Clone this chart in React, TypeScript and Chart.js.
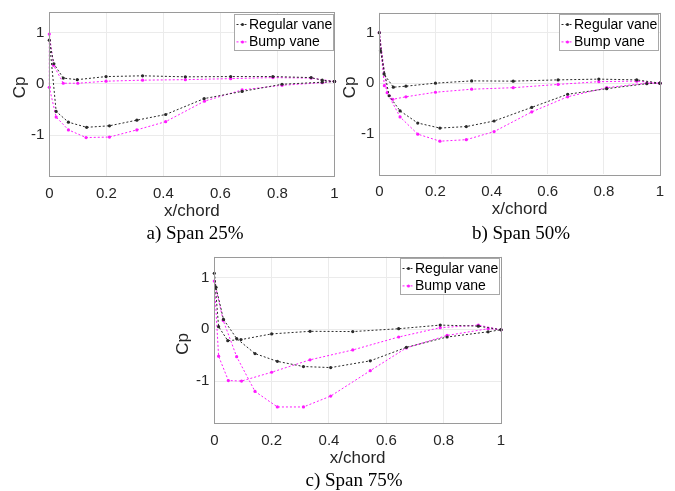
import React, { useEffect, useRef } from 'react';
import { Chart, registerables } from 'chart.js';

Chart.register(...registerables);

// ---------- data ----------
const xTicks = [0, 0.2, 0.4, 0.6, 0.8, 1];
const yTicks = [-1, 0, 1];
const yMin = -1.8;
const yMax = 1.4;
const seriesNames = ['Regular vane', 'Bump vane'];
const captions = ['a) Span 25%', 'b) Span 50%', 'c) Span 75%'];

const aRegularX = [1, 0.957, 0.918, 0.784, 0.636, 0.477, 0.327, 0.199, 0.098, 0.049, 0.016, 0, 0.024, 0.067, 0.131, 0.211, 0.307, 0.408, 0.543, 0.676, 0.816, 0.957, 1];
const aRegularY = [0.045, 0.07, 0.12, 0.14, 0.14, 0.135, 0.155, 0.14, 0.08, 0.11, 0.39, 0.85, -0.54, -0.75, -0.85, -0.82, -0.71, -0.6, -0.29, -0.15, -0.01, 0.03, 0.045];
const aBumpX = [1, 0.918, 0.784, 0.636, 0.477, 0.327, 0.199, 0.1, 0.049, 0.015, 0, 0, 0.024, 0.067, 0.129, 0.211, 0.307, 0.408, 0.544, 0.676, 0.816, 0.957, 1];
const aBumpY = [0.045, 0.11, 0.12, 0.1, 0.08, 0.07, 0.05, 0.01, 0.01, 0.36, 0.97, -0.07, -0.65, -0.9, -1.05, -1.04, -0.9, -0.74, -0.34, -0.12, -0.03, 0.02, 0.045];

const bRegularX = [1, 0.917, 0.782, 0.637, 0.477, 0.329, 0.2, 0.095, 0.05, 0.017, 0, 0.004, 0.035, 0.074, 0.137, 0.216, 0.31, 0.409, 0.543, 0.671, 0.81, 0.953, 1];
const bRegularY = [0, 0.065, 0.08, 0.065, 0.04, 0.045, 0, -0.06, -0.08, 0.18, 1.0, 0.64, -0.25, -0.55, -0.79, -0.89, -0.86, -0.75, -0.48, -0.22, -0.11, -0.01, 0];
const bBumpX = [1, 0.917, 0.782, 0.637, 0.477, 0.329, 0.2, 0.095, 0.048, 0.018, 0, 0.028, 0.074, 0.137, 0.216, 0.31, 0.409, 0.543, 0.671, 0.81, 0.953, 1];
const bBumpY = [0, 0.04, 0.03, -0.025, -0.09, -0.12, -0.18, -0.27, -0.32, -0.05, 1.0, -0.19, -0.67, -1.01, -1.15, -1.12, -0.96, -0.57, -0.27, -0.09, 0.0, 0];

const cRegularX = [1, 0.921, 0.788, 0.643, 0.483, 0.334, 0.2, 0.093, 0.047, 0.015, 0, 0.006, 0.032, 0.078, 0.142, 0.22, 0.311, 0.406, 0.544, 0.67, 0.812, 0.955, 1];
const cRegularY = [-0.01, 0.06, 0.08, 0.01, -0.045, -0.04, -0.09, -0.2, -0.22, 0.05, 1.08, 0.81, 0.19, -0.18, -0.47, -0.62, -0.72, -0.74, -0.61, -0.35, -0.15, -0.05, -0.01];
const cBumpX = [1, 0.921, 0.788, 0.643, 0.483, 0.334, 0.2, 0.095, 0.049, 0.015, 0, 0.031, 0.078, 0.142, 0.22, 0.311, 0.406, 0.544, 0.67, 0.812, 0.955, 1];
const cBumpY = [-0.01, 0.08, 0.03, -0.15, -0.4, -0.59, -0.83, -1.0, -0.99, -0.52, 0.93, 0.17, -0.53, -1.2, -1.5, -1.5, -1.29, -0.8, -0.36, -0.12, 0.01, -0.01];

// ---------- styles ----------
const SANS = "'Liberation Sans', Arial, Helvetica, sans-serif";
const SERIF = "'Liberation Serif', 'Times New Roman', serif";
const seriesColors = ['#2a2a2a', '#ff1aff'];
const TEXT = '#262626';

type PanelCfg = {
  left: number; top: number; w: number; h: number;
  padTop: number; padRight: number;
  yWidth: number; xHeight: number;
  xTitlePad: number; yTitleX: number; yTitleY: number;
  xs: number[][]; ys: number[][];
  caption: string; capX: number; capY: number;
};

const panels: PanelCfg[] = [
  { left: 0, top: -6, w: 350, h: 231, padTop: 18, padRight: 15.5, yWidth: 49.3, xHeight: 49, xTitlePad: 3.8, yTitleX: 20.8, yTitleY: 93.5,
    xs: [aRegularX, aBumpX], ys: [aRegularY, aBumpY], caption: captions[0], capX: 195, capY: 233 },
  { left: 335, top: -6, w: 340, h: 231, padTop: 18.5, padRight: 15, yWidth: 44.3, xHeight: 51, xTitlePad: 5.5, yTitleX: 15.8, yTitleY: 93.5,
    xs: [bRegularX, bBumpX], ys: [bRegularY, bBumpY], caption: captions[1], capX: 521, capY: 233 },
  { left: 160, top: 238, w: 356, h: 237, padTop: 18.7, padRight: 15, yWidth: 54.3, xHeight: 52.5, xTitlePad: 6.5, yTitleX: 23.3, yTitleY: 106,
    xs: [cRegularX, cBumpX], ys: [cRegularY, cBumpY], caption: captions[2], capX: 354, capY: 480 },
];

const decorPlugin = {
  id: 'decor',
  afterDraw(chart: any, _args: any, opts: any) {
    const { ctx, chartArea } = chart;
    const { left, right, top, bottom } = chartArea;
    ctx.save();
    // y-axis title
    ctx.fillStyle = TEXT;
    ctx.font = `17px ${SANS}`;
    ctx.textAlign = 'center';
    ctx.textBaseline = 'middle';
    ctx.translate(opts.yTitleX, opts.yTitleY);
    ctx.rotate(-Math.PI / 2);
    ctx.fillText('Cp', 0, 0);
    ctx.setTransform(1, 0, 0, 1, 0, 0);
    // axes box
    ctx.strokeStyle = '#9a9a9a';
    ctx.lineWidth = 1;
    ctx.setLineDash([]);
    ctx.strokeRect(Math.round(left) + 0.5, Math.round(top) + 0.5, Math.round(right - left), Math.round(bottom - top));
    // legend
    const bw = 99, bh = 36;
    const bx = Math.round(right - 2 - bw) + 0.5;
    const by = Math.round(top + 1.5) + 0.5;
    ctx.fillStyle = '#ffffff';
    ctx.fillRect(bx, by, bw, bh);
    ctx.strokeStyle = '#a8a8a8';
    ctx.strokeRect(bx, by, bw, bh);
    chart.data.datasets.forEach((ds: any, i: number) => {
      const cy = by + 10 + i * 17.4;
      ctx.strokeStyle = ds.borderColor;
      ctx.lineWidth = 1;
      ctx.setLineDash([2, 2]);
      ctx.beginPath();
      ctx.moveTo(bx + 2, cy);
      ctx.lineTo(bx + 14, cy);
      ctx.stroke();
      ctx.setLineDash([]);
      ctx.fillStyle = ds.borderColor;
      ctx.beginPath();
      ctx.arc(bx + 8, cy, 1.5, 0, Math.PI * 2);
      ctx.fill();
      ctx.fillStyle = '#000000';
      ctx.font = `14px ${SANS}`;
      ctx.textBaseline = 'middle';
      ctx.textAlign = 'left';
      ctx.fillText(ds.label, bx + 14.5, cy + 0.5);
    });
    ctx.restore();
  },
};

function Panel({ cfg }: { cfg: PanelCfg }) {
  const ref = useRef<HTMLCanvasElement | null>(null);
  useEffect(() => {
    if (!ref.current) return;
    const datasets = cfg.xs.map((xs, i) => ({
      label: seriesNames[i],
      data: xs.map((x, j) => ({ x, y: cfg.ys[i][j] })),
      showLine: true,
      borderColor: seriesColors[i],
      backgroundColor: seriesColors[i],
      borderWidth: 1,
      borderDash: [2, 2],
      pointRadius: 1.6,
      pointBorderWidth: 0,
      pointBackgroundColor: seriesColors[i],
      tension: 0,
      clip: false as any,
    }));
    const chart = new Chart(ref.current, {
      type: 'scatter',
      data: { datasets },
      plugins: [decorPlugin],
      options: {
        responsive: false,
        animation: false,
        events: [],
        layout: { padding: { top: cfg.padTop, right: cfg.padRight, left: 0, bottom: 0 } },
        plugins: {
          legend: { display: false },
          tooltip: { enabled: false },
          decor: { yTitleX: cfg.yTitleX, yTitleY: cfg.yTitleY },
        },
        scales: {
          x: {
            type: 'linear',
            min: 0,
            max: 1,
            afterBuildTicks: (s: any) => { s.ticks = xTicks.map((v) => ({ value: v })); },
            afterFit: (s: any) => { s.height = cfg.xHeight; },
            grid: { color: '#ebebeb', drawTicks: false },
            border: { display: false },
            ticks: { padding: 9, autoSkip: false, maxRotation: 0, color: TEXT, font: { family: SANS, size: 15 }, callback: (v: any) => String(v) },
            title: { display: true, text: 'x/chord', color: TEXT, font: { family: SANS, size: 17 }, padding: { top: 0, bottom: cfg.xTitlePad } },
          },
          y: {
            type: 'linear',
            min: yMin,
            max: yMax,
            afterBuildTicks: (s: any) => { s.ticks = yTicks.map((v) => ({ value: v })); },
            afterFit: (s: any) => { s.width = cfg.yWidth; },
            grid: { color: '#ebebeb', drawTicks: false },
            border: { display: false },
            ticks: { padding: 5, color: TEXT, font: { family: SANS, size: 15 }, callback: (v: any) => String(v) },
            title: { display: false },
          },
        },
      } as any,
    });
    return () => chart.destroy();
  }, [cfg]);
  return (
    <canvas
      ref={ref}
      width={cfg.w}
      height={cfg.h}
      style={{ position: 'absolute', left: cfg.left, top: cfg.top, width: cfg.w, height: cfg.h }}
    />
  );
}

export default function App() {
  return (
    <div style={{ position: 'absolute', left: 0, top: 0, width: 675, height: 491, background: '#ffffff', overflow: 'hidden' }}>
      {panels.map((p, i) => (
        <Panel key={i} cfg={p} />
      ))}
      {panels.map((p, i) => (
        <div
          key={'c' + i}
          style={{
            position: 'absolute',
            left: p.capX - 80,
            top: p.capY - 11,
            width: 160,
            textAlign: 'center',
            fontFamily: SERIF,
            fontSize: 19,
            lineHeight: '22px',
            color: '#000',
            whiteSpace: 'nowrap',
          }}
        >
          {p.caption}
        </div>
      ))}
    </div>
  );
}
